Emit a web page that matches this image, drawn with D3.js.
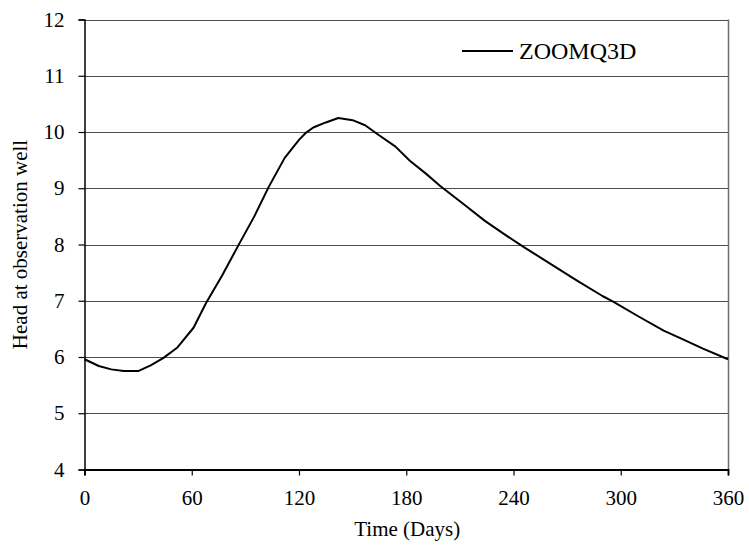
<!DOCTYPE html>
<html>
<head>
<meta charset="utf-8">
<script src="https://cdn.jsdelivr.net/npm/d3@7"></script>
<style>
  html, body { margin: 0; padding: 0; background: #fff; }
  svg { display: block; }
  svg text { font-family: "Liberation Serif", "Times New Roman", serif !important; fill: #000; }
</style>
</head>
<body>
<svg id="chart" width="749" height="552"></svg>
<script>
// Simulated head at the observation well over one year
const seriesName = "ZOOMQ3D";
const days = [0, 8, 15, 22, 30, 37, 44, 52, 61, 68, 77, 86, 95, 103, 112, 120, 124, 128, 135, 142,
              150, 157, 164, 174, 182, 191, 199, 212, 224, 235, 246, 260, 276, 290, 296, 310, 324, 333, 346, 360];
const head = [5.96, 5.84, 5.78, 5.75, 5.75, 5.85, 5.98, 6.17, 6.52, 6.96, 7.45, 7.98, 8.50, 9.02, 9.54, 9.86, 9.99, 10.08, 10.17, 10.25,
              10.21, 10.12, 9.96, 9.74, 9.49, 9.26, 9.04, 8.72, 8.42, 8.18, 7.95, 7.67, 7.35, 7.08, 6.98, 6.72, 6.47, 6.34, 6.15, 5.96];
const xTicks = [0, 60, 120, 180, 240, 300, 360];
const yTicks = [4, 5, 6, 7, 8, 9, 10, 11, 12];
const xTitle = "Time (Days)";
const yTitle = "Head at observation well";

const svg = d3.select("#chart");
const plot = { left: 84.5, right: 728, top: 19.5, bottom: 469.5 };

const x = d3.scaleLinear().domain([0, 360]).range([plot.left, plot.right]);
const y = d3.scaleLinear().domain([4, 12]).range([plot.bottom, plot.top]);

// horizontal gridlines
svg.append("g")
  .selectAll("line")
  .data(yTicks.filter(v => v > 4))
  .join("line")
  .attr("x1", plot.left).attr("x2", plot.right)
  .attr("y1", d => Math.round(y(d)) + 0.5).attr("y2", d => Math.round(y(d)) + 0.5)
  .attr("stroke", "#4d4d4d").attr("stroke-width", 1);

// right border
svg.append("line")
  .attr("x1", plot.right + 0.5).attr("x2", plot.right + 0.5)
  .attr("y1", plot.top).attr("y2", plot.bottom)
  .attr("stroke", "#6e6e6e").attr("stroke-width", 1.5);

// y axis
const yAxis = d3.axisLeft(y).tickValues(yTicks).tickSize(6).tickPadding(14).tickFormat(d3.format("d"));
const gy = svg.append("g").attr("transform", `translate(${plot.left},0)`).call(yAxis);
gy.attr("font-family", null).attr("font-size", null);
gy.select(".domain").attr("stroke", "#000").attr("stroke-width", 1.5);
gy.selectAll(".tick line").attr("stroke", "#000").attr("stroke-width", 1.2);
gy.selectAll(".tick text").style("font-size", "21px");

// x axis
const xAxis = d3.axisBottom(x).tickValues(xTicks).tickSize(6).tickPadding(15).tickFormat(d3.format("d"));
const gx = svg.append("g").attr("transform", `translate(0,${plot.bottom})`).call(xAxis);
gx.attr("font-family", null).attr("font-size", null);
gx.select(".domain").attr("stroke", "#000").attr("stroke-width", 1.8);
gx.selectAll(".tick line").attr("stroke", "#000").attr("stroke-width", 1.2);
gx.selectAll(".tick text").style("font-size", "21px");

// series line
const line = d3.line().x((d, i) => x(days[i])).y(d => y(d));
svg.append("path")
  .datum(head)
  .attr("d", line)
  .attr("fill", "none")
  .attr("stroke", "#000")
  .attr("stroke-width", 2)
  .attr("stroke-linejoin", "round");

// axis titles
svg.append("text")
  .attr("x", (plot.left + plot.right) / 2 + 1)
  .attr("y", 536)
  .attr("text-anchor", "middle")
  .style("font-size", "21px")
  .text(xTitle);

svg.append("text")
  .attr("transform", `translate(27,${(plot.top + plot.bottom) / 2}) rotate(-90)`)
  .attr("text-anchor", "middle")
  .style("font-size", "21px")
  .text(yTitle);

// legend
const legend = svg.append("g").attr("transform", "translate(462,51)");
legend.append("line").attr("x1", 0).attr("x2", 51).attr("y1", 0).attr("y2", 0)
  .attr("stroke", "#000").attr("stroke-width", 2);
legend.append("text").attr("x", 57).attr("y", 8).style("font-size", "24px").text(seriesName);
</script>
</body>
</html>
